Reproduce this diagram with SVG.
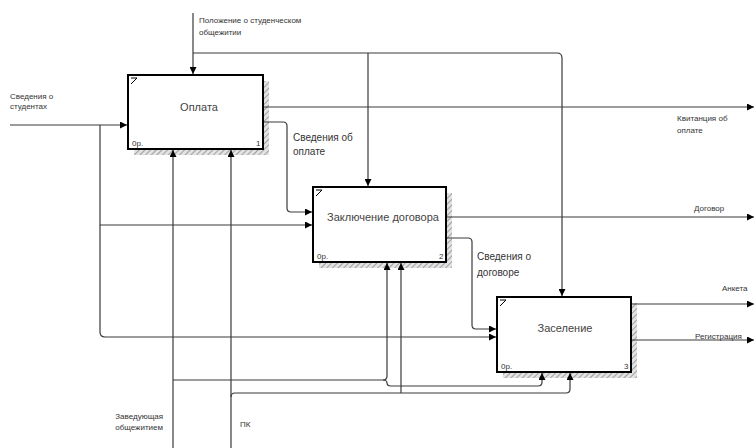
<svg xmlns="http://www.w3.org/2000/svg" width="755" height="448" viewBox="0 0 755 448">
<style>
.box{fill:#fff;stroke:#000;stroke-width:2}
.sh{fill:url(#hatch)}
.ln{fill:none;stroke:#3a3a3a;stroke-width:1.2}
.arr{marker-end:url(#ah)}
.t{font-family:"Liberation Sans",Arial,sans-serif;fill:#333}
.bt{font-size:11px;text-anchor:middle;fill:#444}
.lb{font-size:8px}
.lm{font-size:10px}
.cn{font-size:8px}
.mk{fill:none;stroke:#000;stroke-width:1}
</style>
<defs>
<pattern id="hatch" width="4" height="4" patternUnits="userSpaceOnUse" patternTransform="rotate(45)">
<rect width="4" height="4" fill="#e2e2e2"/>
<line x1="0" y1="0" x2="0" y2="4" stroke="#8a8a8a" stroke-width="1.5"/>
</pattern>
<marker id="ah" markerUnits="userSpaceOnUse" markerWidth="8" markerHeight="7" refX="7" refY="3.5" orient="auto">
<path d="M0,0 L7,3.5 L0,7 z" fill="#000"/>
</marker>
</defs>
<g id="node-oplata">
<rect class="sh" x="134" y="81" width="135" height="74"/>
<rect class="box" x="128" y="75" width="135" height="74"/>
<path class="mk" d="M131,78 H137 L131,84"/>
<text class="t bt" x="199" y="111">Оплата</text>
<text class="t cn" x="132" y="146">0р.</text>
<text class="t cn" x="256" y="146">1</text>
</g>
<g id="node-dogovor">
<rect class="sh" x="319" y="193" width="133" height="75"/>
<rect class="box" x="313" y="187" width="133" height="75"/>
<path class="mk" d="M316,190 H322 L316,196"/>
<text class="t bt" x="383" y="221">Заключение договора</text>
<text class="t cn" x="317" y="259">0р.</text>
<text class="t cn" x="439" y="259">2</text>
</g>
<g id="node-zaselenie">
<rect class="sh" x="503" y="303" width="134" height="75"/>
<rect class="box" x="497" y="297" width="134" height="75"/>
<path class="mk" d="M500,300 H506 L500,306"/>
<text class="t bt" x="565" y="332">Заселение</text>
<text class="t cn" x="501" y="369">0р.</text>
<text class="t cn" x="624" y="369">3</text>
</g>
<g id="connectors">
<path class="ln arr" d="M10,125 H127"/>
<path class="ln arr" d="M100,125 V225 H312"/>
<path class="ln arr" d="M100,225 V332 Q100,337 105,337 H496"/>
<path class="ln arr" d="M193,13 V74"/>
<path class="ln arr" d="M193,53 H557 Q562,53 562,58 V296"/>
<path class="ln arr" d="M368,53 V186"/>
<path class="ln arr" d="M264,107 H754"/>
<path class="ln arr" d="M264,122 H283 Q287,122 287,126 V208 Q287,212 291,212 H312"/>
<path class="ln arr" d="M447,217 H754"/>
<path class="ln arr" d="M447,238 H468 Q472,238 472,242 V325 Q472,329 476,329 H496"/>
<path class="ln arr" d="M632,304 H754"/>
<path class="ln arr" d="M632,340 H754"/>
<path class="ln arr" d="M173,448 V150"/>
<path class="ln arr" d="M231,448 V150"/>
<path class="ln arr" d="M173,380 H383 Q387,380 387,376 V263"/>
<path class="ln arr" d="M383,380 Q387,380 387,383 Q387,386 391,386 H538 Q542,386 542,382 V373"/>
<path class="ln arr" d="M231,397 Q231,393 235,393 H566 Q570,393 570,389 V373"/>
<path class="ln arr" d="M401,393 V263"/>
</g>
<g id="labels">
<text class="t lb" x="10" y="99">Сведения о</text>
<text class="t lb" x="10" y="109">студентах</text>
<text class="t lb" x="199" y="23">Положение о студенческом</text>
<text class="t lb" x="199" y="35">общежитии</text>
<text class="t lm" x="293" y="141">Сведения об</text>
<text class="t lm" x="293" y="155">оплате</text>
<text class="t lb" x="677" y="121">Квитанция об</text>
<text class="t lb" x="677" y="133">оплате</text>
<text class="t lb" x="694" y="211">Договор</text>
<text class="t lm" x="477" y="260">Сведения о</text>
<text class="t lm" x="477" y="276">договоре</text>
<text class="t lb" x="722" y="291">Анкета</text>
<text class="t lb" x="695" y="339">Регистрация</text>
<text class="t lb" x="163" y="419" text-anchor="end">Заведующая</text>
<text class="t lb" x="163" y="430" text-anchor="end">общежитием</text>
<text class="t lb" x="240" y="427">ПК</text>
</g>
</svg>
